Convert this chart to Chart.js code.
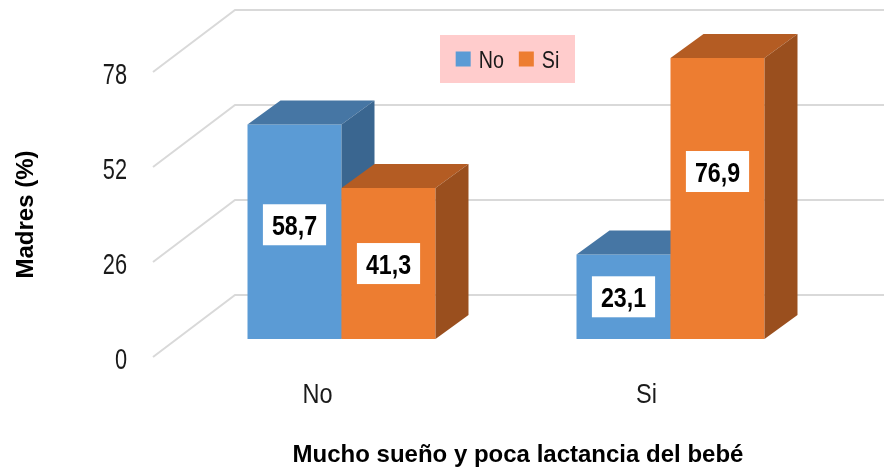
<!DOCTYPE html>
<html>
<head>
<meta charset="utf-8">
<script src="https://cdn.jsdelivr.net/npm/chart.js@4.4.1/dist/chart.umd.min.js"></script>
<style>
  html, body { margin: 0; padding: 0; background: #fff; }
  canvas { display: block; }
</style>
</head>
<body>
<canvas id="chart" width="884" height="470"></canvas>
<script>
// Madres (%) by "mucho sueño y poca lactancia del bebé"
const categories = ['No', 'Si'];
const seriesNames = ['No', 'Si'];
const seriesNo = [58.7, 23.1];
const seriesSi = [41.3, 76.9];
const yTicks = [0, 26, 52, 78];

const FONT = "'Liberation Sans', Arial, sans-serif";
const TEXT = '#1a1a1a';

const faceColors = [
    { front: '#5B9BD5', top: '#4676A4', side: '#3A6690' },
    { front: '#ED7D31', top: '#B45C23', side: '#9A4F1E' }
];

// 3D offsets: back wall from the front edge, bar plane from the front edge, bar depth
const WALL = { dx: 82, dy: -62 };
const BAR_SHIFT = { dx: 24, dy: -18 };
const BAR_DEPTH = { dx: 33, dy: -24 };

// value boxes are not all centred on their bar: [dataset][category] y nudge
const labelNudge = [[-7, 0], [0, -27]];

function fmt(v) {
    return v.toFixed(1).replace('.', ',');
}

// narrow text: the labels use a condensed face, so squeeze horizontally
function squeezeText(ctx, txt, x, y, sx, align) {
    ctx.save();
    ctx.translate(x, y);
    ctx.scale(sx, 1);
    ctx.textAlign = align;
    ctx.fillText(txt, 0, 0);
    ctx.restore();
}

function drawBox(ctx, bar, c) {
    const { x, y, base, width } = bar.getProps(['x', 'y', 'base', 'width'], true);
    const l = x - width / 2;
    const r = x + width / 2;
    bar.draw(ctx);
    // top
    ctx.fillStyle = c.top;
    ctx.beginPath();
    ctx.moveTo(l, y);
    ctx.lineTo(r, y);
    ctx.lineTo(r + BAR_DEPTH.dx, y + BAR_DEPTH.dy);
    ctx.lineTo(l + BAR_DEPTH.dx, y + BAR_DEPTH.dy);
    ctx.closePath();
    ctx.fill();
    // side
    ctx.fillStyle = c.side;
    ctx.beginPath();
    ctx.moveTo(r, y);
    ctx.lineTo(r + BAR_DEPTH.dx, y + BAR_DEPTH.dy);
    ctx.lineTo(r + BAR_DEPTH.dx, base + BAR_DEPTH.dy);
    ctx.lineTo(r, base);
    ctx.closePath();
    ctx.fill();
}

const bars3d = {
    id: 'bars3d',
    beforeDatasetsDraw(chart) {
        const { ctx, chartArea, scales: { y } } = chart;
        // floor + back wall grid
        ctx.save();
        ctx.strokeStyle = '#D9D9D9';
        ctx.lineWidth = 2;
        yTicks.forEach(v => {
            const py = y.getPixelForValue(v);
            ctx.beginPath();
            ctx.moveTo(chartArea.left, py);
            ctx.lineTo(chartArea.left + WALL.dx, py + WALL.dy);
            ctx.lineTo(chart.width, py + WALL.dy);
            ctx.stroke();
        });
        ctx.restore();
    },
    // boxes are drawn below, first series first, so skip the flat bars
    beforeDatasetDraw() {
        return false;
    },
    afterDatasetsDraw(chart) {
        const ctx = chart.ctx;
        ctx.save();
        // bars sit a little deeper than the front edge
        ctx.translate(BAR_SHIFT.dx, BAR_SHIFT.dy);
        chart.data.datasets.forEach((ds, di) => {
            chart.getDatasetMeta(di).data.forEach(bar => drawBox(ctx, bar, faceColors[di]));
        });

        // value boxes
        ctx.font = 'bold 27px ' + FONT;
        ctx.textBaseline = 'alphabetic';
        const sx = 0.86;
        chart.data.datasets.forEach((ds, di) => {
            chart.getDatasetMeta(di).data.forEach((bar, i) => {
                const { x, y, base } = bar.getProps(['x', 'y', 'base'], true);
                const txt = fmt(ds.data[i]);
                const w = ctx.measureText(txt).width * sx + 18;
                const h = 41;
                const cy = (y + base) / 2 + labelNudge[di][i];
                ctx.fillStyle = '#FFFFFF';
                ctx.fillRect(x - w / 2, cy - h / 2, w, h);
                ctx.fillStyle = '#000000';
                squeezeText(ctx, txt, x, cy + 10, sx, 'center');
            });
        });
        ctx.restore();
    },
    afterDraw(chart) {
        const { ctx, scales: { x, y } } = chart;
        ctx.save();
        ctx.fillStyle = TEXT;
        ctx.textBaseline = 'alphabetic';

        // y tick labels
        ctx.font = '29px ' + FONT;
        y.ticks.forEach((t, i) => {
            const py = y.getPixelForTick(i);
            squeezeText(ctx, t.label, y.right - 26, py + 12, 0.75, 'right');
        });

        // category labels
        ctx.font = '28px ' + FONT;
        x.ticks.forEach((t, i) => {
            const px = x.getPixelForTick(i);
            squeezeText(ctx, categories[i], px, x.top + 46, 0.84, 'center');
        });

        // legend
        const box = { left: 440, top: 35, width: 135, height: 48 };
        ctx.fillStyle = '#FFCCCC';
        ctx.fillRect(box.left, box.top, box.width, box.height);
        ctx.font = '24px ' + FONT;
        const lsx = 0.82;
        const sq = 15, gap = 8, itemGap = 15;
        const widths = seriesNames.map(n => ctx.measureText(n).width * lsx);
        let total = 0;
        widths.forEach((w, i) => { total += sq + gap + w + (i ? itemGap : 0); });
        let lx = box.left + (box.width - total) / 2;
        const ly = box.top + box.height / 2;
        seriesNames.forEach((n, i) => {
            if (i) lx += itemGap;
            ctx.fillStyle = faceColors[i].front;
            ctx.fillRect(lx, ly - sq / 2, sq, sq);
            lx += sq + gap;
            ctx.fillStyle = TEXT;
            squeezeText(ctx, n, lx, ly + 8.5, lsx, 'left');
            lx += widths[i];
        });

        // x axis title
        ctx.font = 'bold 24px ' + FONT;
        ctx.textAlign = 'center';
        ctx.fillStyle = '#000000';
        ctx.fillText('Mucho sueño y poca lactancia del bebé', 518, 462);
        ctx.restore();
    }
};

new Chart(document.getElementById('chart'), {
    type: 'bar',
    data: {
        labels: categories,
        datasets: [
            { label: seriesNames[0], data: seriesNo, backgroundColor: faceColors[0].front, borderWidth: 0 },
            { label: seriesNames[1], data: seriesSi, backgroundColor: faceColors[1].front, borderWidth: 0 }
        ]
    },
    options: {
        responsive: false,
        animation: false,
        devicePixelRatio: 1,
        layout: { padding: { left: 0, top: 72, right: 73, bottom: 0 } },
        datasets: {
            bar: { categoryPercentage: 0.5714, barPercentage: 1 }
        },
        plugins: {
            legend: { display: false },
            tooltip: { enabled: false }
        },
        scales: {
            x: {
                grid: { display: false, drawTicks: false },
                border: { display: false },
                ticks: { display: false },
                afterFit: s => { s.height = 113; }
            },
            y: {
                min: 0,
                max: 78,
                grid: { display: false, drawTicks: false },
                border: { display: false },
                ticks: { display: false, stepSize: 26 },
                title: {
                    display: true,
                    text: 'Madres (%)',
                    color: '#000000',
                    font: { family: FONT, size: 24, weight: 'bold' },
                    padding: { top: 12, bottom: 0 }
                },
                afterFit: s => { s.width = 153; }
            }
        }
    },
    plugins: [bars3d]
});
</script>
</body>
</html>
